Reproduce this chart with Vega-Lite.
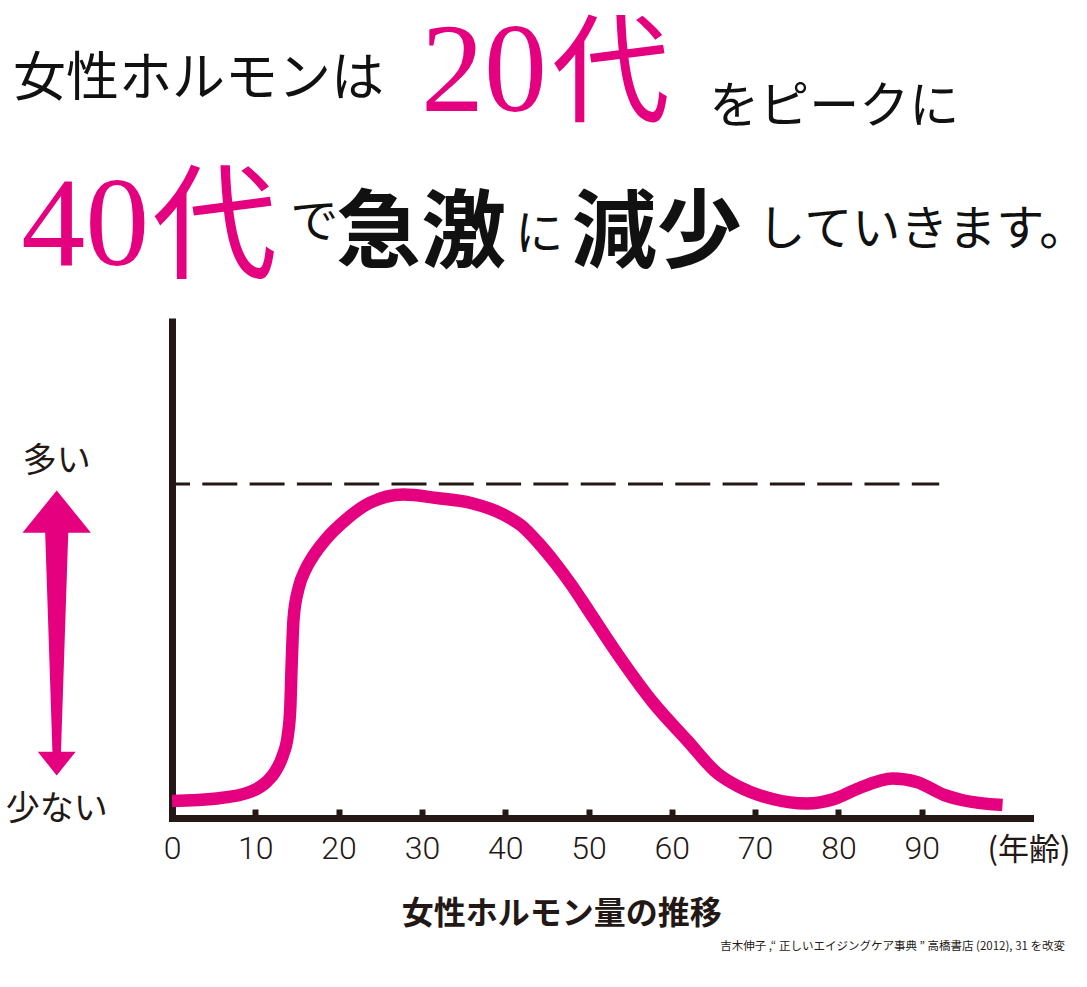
{
  "$schema": "https://vega.github.io/schema/vega-lite/v6.json",
  "width": 858,
  "height": 500,
  "autosize": {"type": "none"},
  "padding": {"left": 172, "top": 318, "right": 57, "bottom": 169},
  "background": "white",
  "config": {
    "view": {"stroke": null},
    "font": "Noto Sans CJK JP",
    "axisX": {
      "grid": false, "zindex": 1,
      "domainColor": "#231815", "domainWidth": 7, "domainCap": "square",
      "ticks": true, "tickColor": "#231815", "tickWidth": 6, "tickSize": -9,
      "labelFont": "Roboto", "labelFontWeight": 300, "labelFontSize": 32,
      "labelColor": "#231815", "labelPadding": 24, "labelFlush": false, "labelOverlap": false
    },
    "axisY": {
      "grid": false, "zindex": 1,
      "domainColor": "#231815", "domainWidth": 7,
      "ticks": false, "labels": false
    }
  },
  "datasets": {
    "hormone": [
      {"age": 0, "level": 3.4},
      {"age": 5.4, "level": 3.9},
      {"age": 9.5, "level": 5.3},
      {"age": 11.4, "level": 7.3},
      {"age": 12.4, "level": 9.3},
      {"age": 13.3, "level": 12.5},
      {"age": 13.9, "level": 16.5},
      {"age": 14.2, "level": 22},
      {"age": 14.35, "level": 30},
      {"age": 14.6, "level": 40},
      {"age": 15.2, "level": 46},
      {"age": 16.0, "level": 49.6},
      {"age": 16.8, "level": 52},
      {"age": 18.4, "level": 55.6},
      {"age": 20.9, "level": 59.7},
      {"age": 23.7, "level": 63},
      {"age": 27.8, "level": 64.7},
      {"age": 31.8, "level": 64},
      {"age": 35.9, "level": 63},
      {"age": 39.9, "level": 60.6},
      {"age": 42, "level": 58.4},
      {"age": 44, "level": 55},
      {"age": 46, "level": 51},
      {"age": 48, "level": 46.5},
      {"age": 50, "level": 41.5},
      {"age": 53.6, "level": 32.5},
      {"age": 57.7, "level": 23.2},
      {"age": 61.8, "level": 15.6},
      {"age": 65.5, "level": 8.9},
      {"age": 68, "level": 6.3},
      {"age": 72.1, "level": 3.8},
      {"age": 76.2, "level": 2.9},
      {"age": 79.5, "level": 3.8},
      {"age": 82.4, "level": 5.9},
      {"age": 86.5, "level": 7.9},
      {"age": 89.4, "level": 7.2},
      {"age": 92.7, "level": 4.6},
      {"age": 94.8, "level": 3.6},
      {"age": 99.7, "level": 2.6}
    ],
    "one": [{}]
  },
  "layer": [
    {
      "data": {"name": "hormone"},
      "mark": {"type": "line", "color": "#e4007f", "strokeWidth": 12.5, "interpolate": "monotone", "strokeCap": "butt"},
      "encoding": {
        "x": {
          "field": "age", "type": "quantitative",
          "scale": {"domain": [0, 103], "nice": false},
          "axis": {"values": [0, 10, 20, 30, 40, 50, 60, 70, 80, 90], "title": null}
        },
        "y": {
          "field": "level", "type": "quantitative",
          "scale": {"domain": [0, 100], "nice": false},
          "axis": {"title": null}
        }
      }
    },
    {
      "data": {"name": "one"},
      "mark": {"type": "rule", "stroke": "#231815", "strokeWidth": 3, "strokeDash": [35, 12.3], "strokeDashOffset": 17},
      "encoding": {
        "x": {"datum": 0, "type": "quantitative", "scale": {"domain": [0, 103], "nice": false}},
        "x2": {"datum": 92.1},
        "y": {"datum": 66.8, "type": "quantitative", "scale": {"domain": [0, 100], "nice": false}}
      }
    },
    {
      "data": {"name": "one"},
      "mark": {"type": "point", "shape": "M0,-1L0.24,-0.704L0.081,-0.704L0.03,0.833L0.133,0.833L0,1L-0.133,0.833L-0.03,0.833L-0.081,-0.704L-0.24,-0.704Z", "size": 81225, "filled": true, "color": "#e4007f", "opacity": 1, "strokeWidth": 0},
      "encoding": {
        "x": {"datum": -13.84, "type": "quantitative", "scale": {"domain": [0, 103], "nice": false}},
        "y": {"datum": 37, "type": "quantitative", "scale": {"domain": [0, 100], "nice": false}}
      }
    },
    {
      "data": {"name": "one"},
      "mark": {"type": "text", "align": "center", "baseline": "alphabetic", "font": "Noto Sans CJK JP", "fontSize": 34, "color": "#231815"},
      "encoding": {
        "x": {"datum": -13.84, "type": "quantitative", "scale": {"domain": [0, 103], "nice": false}},
        "y": {"datum": 69.2, "type": "quantitative", "scale": {"domain": [0, 100], "nice": false}},
        "text": {"value": "多い"}
      }
    },
    {
      "data": {"name": "one"},
      "mark": {"type": "text", "align": "center", "baseline": "alphabetic", "font": "Noto Sans CJK JP", "fontSize": 34, "color": "#231815"},
      "encoding": {
        "x": {"datum": -13.84, "type": "quantitative", "scale": {"domain": [0, 103], "nice": false}},
        "y": {"datum": -0.4, "type": "quantitative", "scale": {"domain": [0, 100], "nice": false}},
        "text": {"value": "少ない"}
      }
    },
    {
      "data": {"name": "one"},
      "mark": {"type": "text", "align": "left", "baseline": "alphabetic", "font": "Noto Sans CJK JP", "fontSize": 31, "color": "#231815"},
      "encoding": {
        "x": {"datum": 97.9, "type": "quantitative", "scale": {"domain": [0, 103], "nice": false}},
        "y": {"datum": -8.4, "type": "quantitative", "scale": {"domain": [0, 100], "nice": false}},
        "text": {"value": "(年齢)"}
      }
    },
    {
      "data": {"name": "one"},
      "mark": {"type": "text", "align": "center", "baseline": "alphabetic", "font": "Noto Sans CJK JP", "fontSize": 32, "fontWeight": "bold", "color": "#231815"},
      "encoding": {
        "x": {"datum": 46.8, "type": "quantitative", "scale": {"domain": [0, 103], "nice": false}},
        "y": {"datum": -21.2, "type": "quantitative", "scale": {"domain": [0, 100], "nice": false}},
        "text": {"value": "女性ホルモン量の推移"}
      }
    },
    {
      "data": {"name": "one"},
      "mark": {"type": "text", "align": "right", "baseline": "alphabetic", "font": "Noto Sans CJK JP", "fontSize": 11.5, "color": "#231815"},
      "encoding": {
        "x": {"datum": 107.2, "type": "quantitative", "scale": {"domain": [0, 103], "nice": false}},
        "y": {"datum": -26.4, "type": "quantitative", "scale": {"domain": [0, 100], "nice": false}},
        "text": {"value": "吉木伸子 ,“ 正しいエイジングケア事典 ” 高橋書店 (2012), 31 を改変"}
      }
    },
    {
      "data": {"name": "one"},
      "mark": {"type": "text", "align": "left", "baseline": "alphabetic", "font": "Noto Sans CJK JP", "fontSize": 53, "color": "#111111"},
      "encoding": {
        "x": {"datum": -19.1, "type": "quantitative", "scale": {"domain": [0, 103], "nice": false}},
        "y": {"datum": 144.4, "type": "quantitative", "scale": {"domain": [0, 100], "nice": false}},
        "text": {"value": "女性ホルモンは"}
      }
    },
    {
      "data": {"name": "one"},
      "mark": {"type": "text", "align": "left", "baseline": "alphabetic", "font": "Liberation Serif", "fontSize": 126, "color": "#e4007f"},
      "encoding": {
        "x": {"datum": 29.9, "type": "quantitative", "scale": {"domain": [0, 103], "nice": false}},
        "y": {"datum": 141.4, "type": "quantitative", "scale": {"domain": [0, 100], "nice": false}},
        "text": {"value": "20"}
      }
    },
    {
      "data": {"name": "one"},
      "mark": {"type": "text", "align": "left", "baseline": "alphabetic", "font": "Noto Sans CJK JP", "fontSize": 118, "color": "#e4007f"},
      "encoding": {
        "x": {"datum": 45.6, "type": "quantitative", "scale": {"domain": [0, 103], "nice": false}},
        "y": {"datum": 141.0, "type": "quantitative", "scale": {"domain": [0, 100], "nice": false}},
        "text": {"value": "代"}
      }
    },
    {
      "data": {"name": "one"},
      "mark": {"type": "text", "align": "left", "baseline": "alphabetic", "font": "Noto Sans CJK JP", "fontSize": 50, "color": "#111111"},
      "encoding": {
        "x": {"datum": 64.5, "type": "quantitative", "scale": {"domain": [0, 103], "nice": false}},
        "y": {"datum": 139, "type": "quantitative", "scale": {"domain": [0, 100], "nice": false}},
        "text": {"value": "をピークに"}
      }
    },
    {
      "data": {"name": "one"},
      "mark": {"type": "text", "align": "left", "baseline": "alphabetic", "font": "Liberation Serif", "fontSize": 128, "color": "#e4007f"},
      "encoding": {
        "x": {"datum": -18.1, "type": "quantitative", "scale": {"domain": [0, 103], "nice": false}},
        "y": {"datum": 110.6, "type": "quantitative", "scale": {"domain": [0, 100], "nice": false}},
        "text": {"value": "40"}
      }
    },
    {
      "data": {"name": "one"},
      "mark": {"type": "text", "align": "left", "baseline": "alphabetic", "font": "Noto Sans CJK JP", "fontSize": 125, "color": "#e4007f"},
      "encoding": {
        "x": {"datum": -2.4, "type": "quantitative", "scale": {"domain": [0, 103], "nice": false}},
        "y": {"datum": 109.8, "type": "quantitative", "scale": {"domain": [0, 100], "nice": false}},
        "text": {"value": "代"}
      }
    },
    {
      "data": {"name": "one"},
      "mark": {"type": "text", "align": "left", "baseline": "alphabetic", "font": "Noto Sans CJK JP", "fontSize": 48, "color": "#111111"},
      "encoding": {
        "x": {"datum": 14.2, "type": "quantitative", "scale": {"domain": [0, 103], "nice": false}},
        "y": {"datum": 116, "type": "quantitative", "scale": {"domain": [0, 100], "nice": false}},
        "text": {"value": "で"}
      }
    },
    {
      "data": {"name": "one"},
      "mark": {"type": "text", "align": "left", "baseline": "alphabetic", "font": "Noto Sans CJK JP", "fontSize": 85, "fontWeight": "bold", "color": "#111111"},
      "encoding": {
        "x": {"datum": 19.7, "type": "quantitative", "scale": {"domain": [0, 103], "nice": false}},
        "y": {"datum": 111.4, "type": "quantitative", "scale": {"domain": [0, 100], "nice": false}},
        "text": {"value": "急激"}
      }
    },
    {
      "data": {"name": "one"},
      "mark": {"type": "text", "align": "left", "baseline": "alphabetic", "font": "Noto Sans CJK JP", "fontSize": 48, "color": "#111111"},
      "encoding": {
        "x": {"datum": 41.2, "type": "quantitative", "scale": {"domain": [0, 103], "nice": false}},
        "y": {"datum": 113.6, "type": "quantitative", "scale": {"domain": [0, 100], "nice": false}},
        "text": {"value": "に"}
      }
    },
    {
      "data": {"name": "one"},
      "mark": {"type": "text", "align": "left", "baseline": "alphabetic", "font": "Noto Sans CJK JP", "fontSize": 85, "fontWeight": "bold", "color": "#111111"},
      "encoding": {
        "x": {"datum": 48.0, "type": "quantitative", "scale": {"domain": [0, 103], "nice": false}},
        "y": {"datum": 111.4, "type": "quantitative", "scale": {"domain": [0, 100], "nice": false}},
        "text": {"value": "減少"}
      }
    },
    {
      "data": {"name": "one"},
      "mark": {"type": "text", "align": "left", "baseline": "alphabetic", "font": "Noto Sans CJK JP", "fontSize": 48, "color": "#111111"},
      "encoding": {
        "x": {"datum": 70.3, "type": "quantitative", "scale": {"domain": [0, 103], "nice": false}},
        "y": {"datum": 114.6, "type": "quantitative", "scale": {"domain": [0, 100], "nice": false}},
        "text": {"value": "していきます。"}
      }
    }
  ]
}
